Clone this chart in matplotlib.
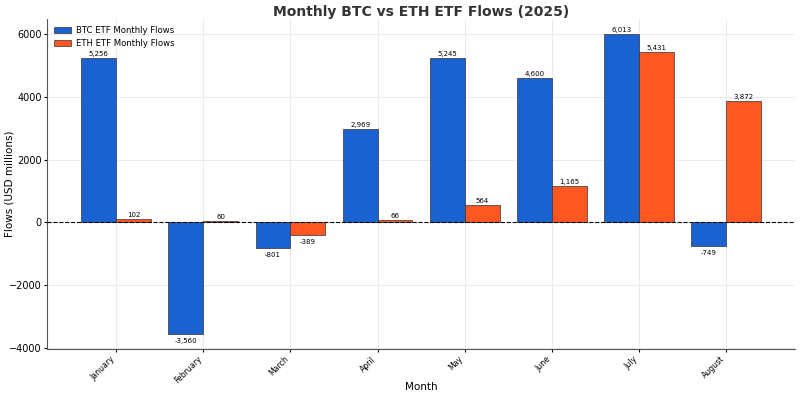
import matplotlib
matplotlib.use("Agg")
import matplotlib.pyplot as plt
import numpy as np

months = ["January", "February", "March", "April", "May", "June", "July", "August"]
btc_flows = [5256, -3560, -801, 2969, 5245, 4600, 6013, -749]
eth_flows = [102, 60, -389, 66, 564, 1165, 5431, 3872]

btc_color = "#1a62d2"
eth_color = "#ff5722"

fig = plt.figure(figsize=(8, 3.97), dpi=100)
ax = fig.add_axes([0.059, 0.121, 0.935, 0.831])

x = np.arange(len(months))
w = 0.4
b1 = ax.bar(x - w / 2, btc_flows, w, color=btc_color, edgecolor="#333333", linewidth=0.5,
            label="BTC ETF Monthly Flows", zorder=3)
b2 = ax.bar(x + w / 2, eth_flows, w, color=eth_color, edgecolor="#333333", linewidth=0.5,
            label="ETH ETF Monthly Flows", zorder=3)

for bars, vals in ((b1, btc_flows), (b2, eth_flows)):
    for r, v in zip(bars, vals):
        cx = r.get_x() + r.get_width() / 2
        if v >= 0:
            ax.text(cx, v + 30, f"{v:,}", ha="center", va="bottom", fontsize=5, zorder=4)
        else:
            ax.text(cx, v - 130, f"{v:,}", ha="center", va="top", fontsize=5, zorder=4)

ax.axhline(0, color="black", linestyle="--", linewidth=0.8, zorder=4)

ax.set_xticks(x)
ax.set_xticklabels(months, rotation=45, ha="right", rotation_mode="default", fontsize=5.6)
ax.tick_params(axis="y", labelsize=7, length=2.5, pad=1.5)
ax.tick_params(axis="x", length=2.5, pad=1.5)
ax.set_xlabel("Month", fontsize=7.5)
ax.set_ylabel("Flows (USD millions)", fontsize=7.5)
ax.xaxis.set_label_coords(0.5, -0.100)
ax.yaxis.set_label_coords(-0.044, 0.5)
ax.set_title("Monthly BTC vs ETH ETF Flows (2025)", fontsize=10, fontweight="bold",
             color="#333333", pad=2)
ax.grid(True, color="#e8e8e8", linewidth=0.6, zorder=0)
ax.set_axisbelow(True)
for s in ("top", "right"):
    ax.spines[s].set_visible(False)
for s in ("left", "bottom"):
    ax.spines[s].set_color("#555555")
ax.legend(loc="upper left", fontsize=6.1, frameon=False, handletextpad=0.6,
          borderaxespad=0.4)

fig.savefig("out.png", dpi=100)
